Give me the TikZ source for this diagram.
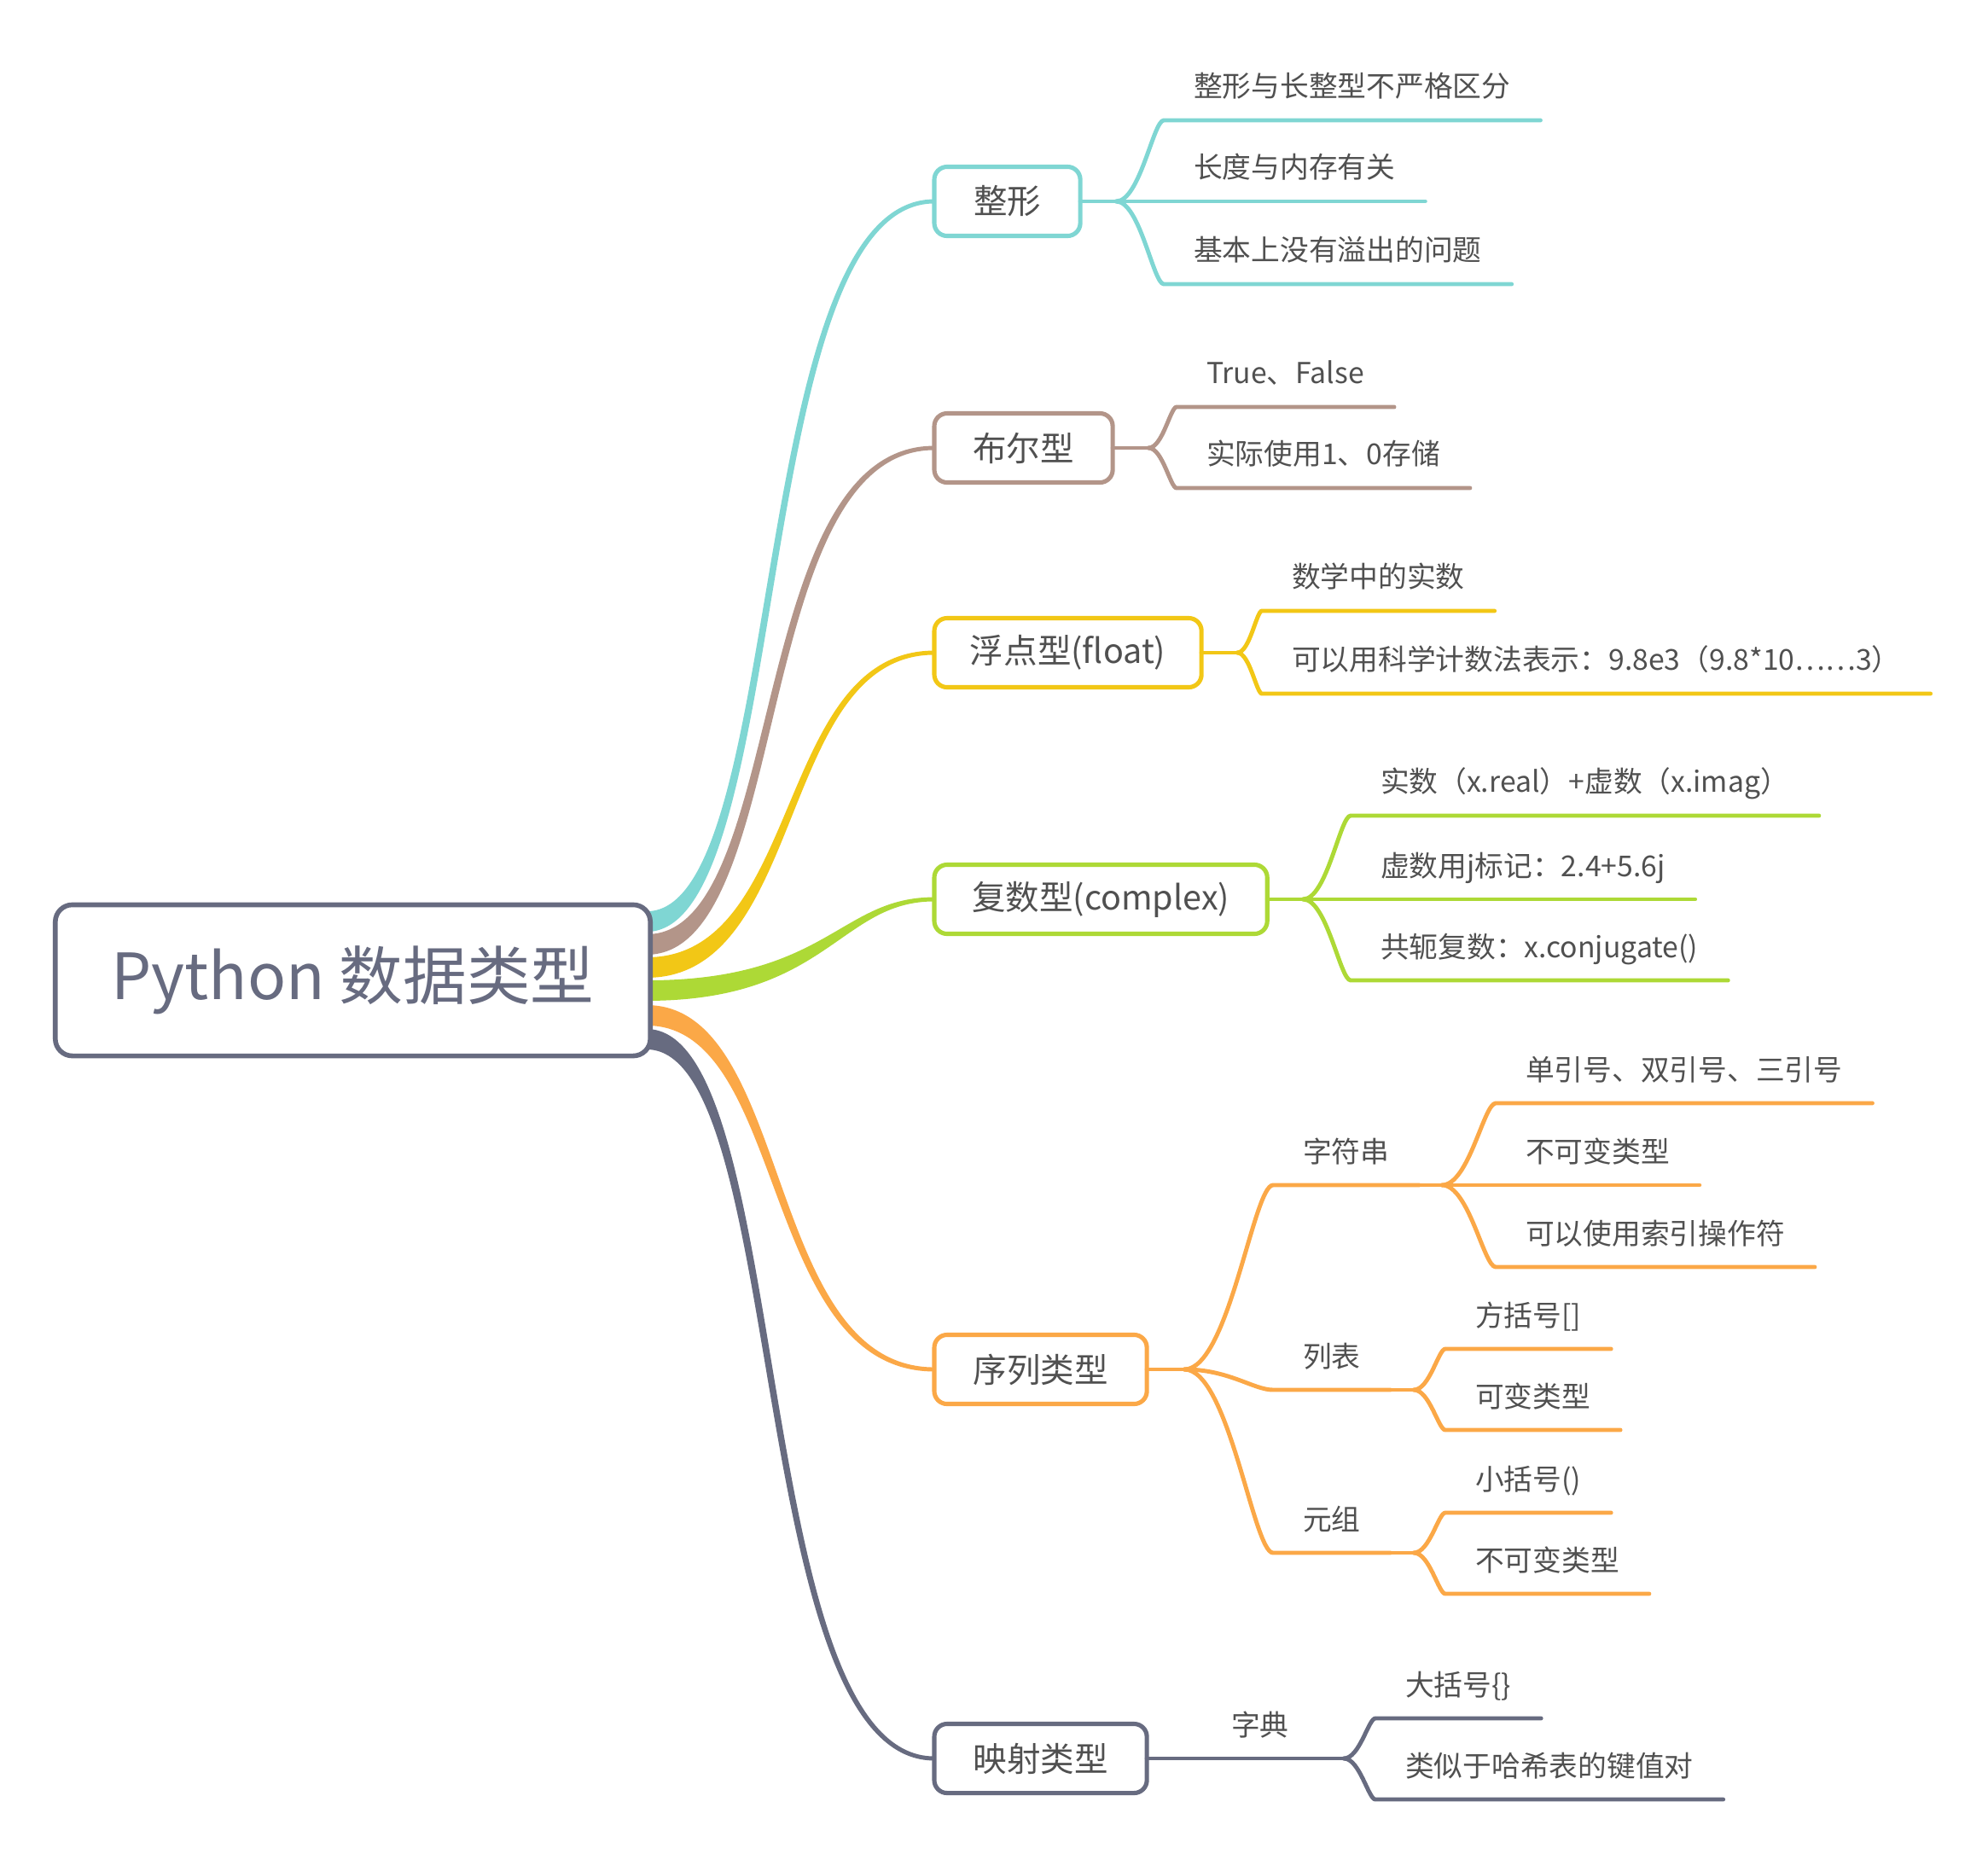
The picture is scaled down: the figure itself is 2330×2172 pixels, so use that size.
\documentclass[tikz,border=0pt]{standalone}
\usepackage{fontspec}
\setmainfont{Noto Sans CJK SC}
\usetikzlibrary{calc,backgrounds}

\definecolor{cteal}{HTML}{7FD6D3}
\definecolor{cbrown}{HTML}{B39589}
\definecolor{cyellow}{HTML}{F2C716}
\definecolor{cgreen}{HTML}{ADD936}
\definecolor{corange}{HTML}{FBA847}
\definecolor{cslate}{HTML}{676B80}
\definecolor{ctext}{HTML}{505050}

% tapered branch from the root to a topic
\newcommand\trunk[6]{%
  \fill[#1] let \p0=([xshift=-2pt,yshift=#2]root.east), \p1=(#3.west), \n1={\x1-\x0} in
    ({\x0},{\y0+3.4pt}) .. controls ({\x0+#4*\n1-(#6)},{\y0+3.4pt}) and ({\x0+#5*\n1-(#6)},{\y1+0.7pt}) .. ({\x1},{\y1+0.7pt})
    -- ({\x1},{\y1-0.7pt}) .. controls ({\x0+#5*\n1+(#6)},{\y1-0.7pt}) and ({\x0+#4*\n1+(#6)},{\y0-3.4pt}) .. ({\x0},{\y0-3.4pt}) -- cycle;}
% thin branch from a fork to an underlined leaf
\newcommand\twig[3]{%
  \draw[twigline=#1] let \p0=(#2), \p1=(#3.south west), \n1={\x1-\x0} in
    (\p0) .. controls ({\x0+0.5*\n1},{\y0}) and ({\x1-0.22*\n1},{\y1}) .. (\p1) -- (#3.south east);}

\begin{document}
\begin{tikzpicture}[
  x=0.01cm, y=-0.01cm,
  root/.style={draw=cslate, line width=1.6pt, rounded corners=0.2cm, fill=white, text=cslate,
    font=\fontsize{21.25pt}{24pt}\selectfont, minimum width=6.97cm, minimum height=1.77cm},
  topic/.style={draw=#1, line width=1.45pt, rounded corners=0.15cm, fill=white, text=ctext,
    font=\fontsize{11.24pt}{13pt}\selectfont, anchor=west, minimum height=0.81cm, inner xsep=0.3cm, outer sep=0pt},
  leaf/.style={anchor=south west, inner xsep=0.35cm, inner ysep=0pt, outer sep=0pt, text depth=0.27cm,
    text=ctext, font=\fontsize{9.6pt}{11pt}\selectfont},
  twigline/.style={draw=#1, line width=1.4pt, line cap=round}
]
\useasboundingbox (0,0) rectangle (2330,2172);

% centre
\node[root] (root) at (413.5,1149) {Python 数据类型};

% first level
\node[topic=cteal, minimum width=1.71cm] (z) at (1095,236) {整形};
\node[topic=cbrown, minimum width=2.09cm] (b) at (1095,525) {布尔型};
\node[topic=cyellow, minimum width=3.13cm] (f) at (1095,765) {浮点型(float)};
\node[topic=cgreen, minimum width=3.90cm] (c) at (1095,1054) {复数型(complex)};
\node[topic=corange, minimum width=2.49cm] (s) at (1095,1605) {序列类型};
\node[topic=cslate, minimum width=2.49cm] (m) at (1095,2061) {映射类型};

% leaves
\node[leaf] (z1) at (1364,141) {整形与长整型不严格区分};
\node[leaf] (z2) at (1364,236) {长度与内存有关};
\node[leaf] (z3) at (1364,333) {基本上没有溢出的问题};

\node[leaf] (b1) at (1379,477) {True、False};
\node[leaf] (b2) at (1379,572) {实际使用1、0存储};

\node[leaf] (f1) at (1479,716) {数学中的实数};
\node[leaf] (f2) at (1479,813) {可以用科学计数法表示：9.8e3（9.8*10……3）};

\node[leaf] (c1) at (1583,956) {实数（x.real）+虚数（x.imag）};
\node[leaf] (c2) at (1583,1054) {虚数用j标记：2.4+5.6j};
\node[leaf] (c3) at (1583,1149) {共轭复数：x.conjugate()};

\node[leaf] (s1) at (1492,1389) {字符串};
\node[leaf] (s11) at (1753,1293) {单引号、双引号、三引号};
\node[leaf] (s12) at (1753,1389) {不可变类型};
\node[leaf] (s13) at (1753,1485) {可以使用索引操作符};
\node[leaf] (s2) at (1492,1629) {列表};
\node[leaf] (s21) at (1694,1581) {方括号[]};
\node[leaf] (s22) at (1694,1676) {可变类型};
\node[leaf] (s3) at (1492,1820) {元组};
\node[leaf] (s31) at (1694,1773) {小括号()};
\node[leaf] (s32) at (1694,1868) {不可变类型};

\node[leaf] (m1) at (1408,2061) {字典};
\node[leaf] (m11) at (1612,2014) {大括号\{\}};
\node[leaf] (m12) at (1612,2109) {类似于哈希表的键值对};

% branches from the centre
\begin{scope}[on background layer]
\trunk{cteal}{19.6pt}{z}{0.5}{0.35}{1pt}
\trunk{cbrown}{11.95pt}{b}{0.5}{0.35}{1pt}
\trunk{cyellow}{4.27pt}{f}{0.55}{0.45}{0.6pt}
\trunk{cgreen}{-3.41pt}{c}{0.63}{0.67}{0pt}
\trunk{corange}{-11.66pt}{s}{0.5}{0.4}{-0.8pt}
\trunk{cslate}{-19.63pt}{m}{0.5}{0.35}{-1pt}
\end{scope}

% forks
\coordinate (zf) at ($(z.east)+(42,0)$);
\coordinate (bf) at ($(b.east)+(42,0)$);
\coordinate (ff) at ($(f.east)+(42,0)$);
\coordinate (cf) at ($(c.east)+(42,0)$);
\coordinate (sf) at ($(s.east)+(44,0)$);
\coordinate (s1f) at (1690,1389);
\coordinate (s2f) at (1657,1629);
\coordinate (s3f) at (1657,1820);
\coordinate (m1f) at (1575,2061);

\draw[twigline=cteal] (z.east) -- (zf);
\foreach \l in {z1,z2,z3} \twig{cteal}{zf}{\l};
\draw[twigline=cbrown] (b.east) -- (bf);
\foreach \l in {b1,b2} \twig{cbrown}{bf}{\l};
\draw[twigline=cyellow] (f.east) -- (ff);
\foreach \l in {f1,f2} \twig{cyellow}{ff}{\l};
\draw[twigline=cgreen] (c.east) -- (cf);
\foreach \l in {c1,c2,c3} \twig{cgreen}{cf}{\l};

\draw[twigline=corange] (s.east) -- (sf);
\foreach \l in {s1,s2,s3} \twig{corange}{sf}{\l};
\draw[twigline=corange] (s1.south east) -- (s1f);
\draw[twigline=corange] (s2.south east) -- (s2f);
\draw[twigline=corange] (s3.south east) -- (s3f);
\foreach \l in {s11,s12,s13} \twig{corange}{s1f}{\l};
\foreach \l in {s21,s22} \twig{corange}{s2f}{\l};
\foreach \l in {s31,s32} \twig{corange}{s3f}{\l};

\draw[twigline=cslate] (m.east) -- (m1.south west) -- (m1.south east) -- (m1f);
\foreach \l in {m11,m12} \twig{cslate}{m1f}{\l};
\end{tikzpicture}
\end{document}
